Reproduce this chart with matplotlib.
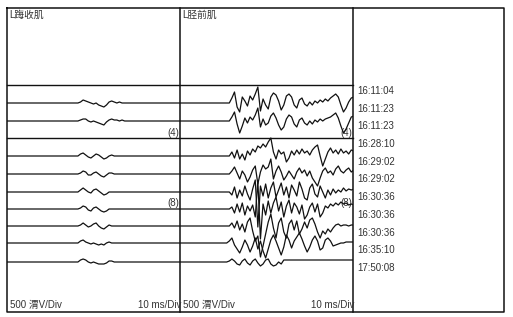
import numpy as np
import matplotlib
matplotlib.use("Agg")
import matplotlib.pyplot as plt

plt.rcParams["font.family"] = ["Liberation Sans", "Noto Sans CJK SC", "DejaVu Sans"]

# --- Input data ---------------------------------------------------------

muscles = ["L踇收肌", "L胫前肌"]
times = ["16:11:04", "16:11:23", "16:11:23", "16:28:10", "16:29:02", "16:29:02",
         "16:30:36", "16:30:36", "16:30:36", "16:35:10", "17:50:08"]
group_counts = ["(4)", "(8)"]
gain_label = "500 渭V/Div"
sweep_label = "10 ms/Div"

# Sample times (ms) of the hand-read waveform segments.
t_left = np.arange(41, 70, 1.5)      # 20 samples, L踇收肌
t_right = np.arange(27, 101, 1.5)    # 50 samples, L胫前肌

# L踇收肌 traces: small deflections only (offsets, up = positive).
left_traces = [
    [0, 1, 3, 2, 1, 0, -1, 0, -2, -3, -4, -2, 1, 2, 1, 0, 1, 0, 0, 0],
    [0, 1, 2, 2, 0, -1, 0, -1, -2, -3, -4, -1, 1, 2, 1, 1, 0, 1, 0, 0],
    [0, 2, 3, 1, -1, -2, 0, 2, 1, -1, -3, -2, 0, 1, 0, 0, 0, 0, 0, 0],
    [0, 1, 3, 2, -1, -1, 1, 2, 0, -2, -3, -1, 1, 1, 0, 0, 0, 0, 0, 0],
    [0, 2, 4, 2, 0, -1, 2, 3, 1, -1, -3, -2, 0, 0, 0, 0, 0, 0, 0, 0],
    [0, 1, 3, 2, -1, -2, 1, 2, 0, -2, -3, -2, 0, 0, 0, 0, 0, 0, 0, 0],
    [0, 1, 3, 1, -1, 0, 2, 3, 0, -2, -3, -1, 1, 0, 0, 0, 0, 0, 0, 0],
    [0, 2, 3, 1, 0, -1, 0, -1, -2, -1, -2, 0, 1, 0, 0, 0, 0, 0, 0, 0],
    [0, 2, 3, 2, 0, -1, 0, -1, -2, -2, -2, -1, 1, 1, 0, 0, 0, 0, 0, 0],
]

# L胫前肌 traces: large responses.
right_traces = [
    [0, 0, 5, 11, -4, -9, 6, 2, -3, 7, 3, 9, 16, -8, 4, -2, -6, 6, 10, 8,
     2, -7, -2, 7, 9, 6, -2, -5, 3, 5, -1, -3, 1, -2, 2, 0, 3, 1, 4, 2,
     5, 7, 9, 6, -2, -9, -5, 1, 5, 6],
    [0, 0, 4, 9, -3, -12, -5, 3, -2, 4, 1, 6, 13, -6, 2, -4, -2, 5, 8, 3,
     -4, -9, -6, 2, 6, 4, -3, -6, 1, 3, -2, -4, 0, -3, 1, -1, 2, 0, 2, 3,
     4, 6, 8, 3, -5, -12, -8, -2, 4, 5],
    [0, 0, 4, -2, 6, -3, 2, -4, 5, 1, 7, 4, 10, 8, 12, 9, 14, 18, 4, -3,
     6, 2, 4, -6, -2, 5, 1, 6, 2, 7, 3, 5, 1, 6, 9, 11, 0, -10, -3, 4,
     8, 3, 6, 2, 7, 3, 5, 2, 6, 5],
    [0, 0, 3, 7, 1, -5, 3, -1, -8, -3, 4, 8, -10, 2, 9, 5, 7, 15, -5, 3,
     8, 2, -6, -2, 3, -1, -5, 2, 6, 1, 4, -2, 3, -4, -8, -12, -4, 3, 6, 1,
     3, -1, 5, 8, 3, 1, 4, 6, 2, 4],
    [0, 0, -3, 5, -6, 2, -4, 6, -2, -8, 3, 12, -35, 6, -4, 8, -6, 4, 10, -5,
     2, 9, -3, 5, -6, 7, 2, -4, 10, 3, -6, -8, 4, 8, -2, -5, 6, 0, -6, 2,
     -3, 3, -1, 2, 0, 4, 1, 3, 2, 3],
    [0, 0, 2, -4, 5, -3, 6, -6, 3, -2, 4, -8, 28, -30, 5, -6, 8, -4, 6, 12,
     -2, 7, -8, 3, 9, -4, 6, 2, -5, 4, -10, -6, 2, 6, -3, 5, -8, -4, 3, 1,
     5, 3, 6, 4, 7, 5, 6, 4, 5, 4],
    [0, 0, 3, -2, 5, -4, 2, -6, 4, 8, -5, -15, -10, -31, -20, -8, 4, 12, -2, -12,
     3, 8, -6, -12, 2, 6, -4, 5, -8, -3, 4, -2, 6, 8, 2, -6, -12, -5, -8, -3,
     -6, -2, 1, 2, 0, 1, 1, 0, 1, 1],
    [0, 2, 5, -2, -6, -10, -4, 3, -2, -9, -3, 5, -6, 2, -8, -15, -6, 3, 8, 2,
     -5, -12, -4, 8, 3, -5, 2, 6, 10, 4, -3, -9, -4, 3, 7, 2, -7, -5, 3, 5,
     2, -3, -2, -1, 0, 0, 1, 1, 1, 1],
    [0, 1, 3, 1, -2, -3, 1, 3, -1, -3, 1, 3, -1, -4, -2, 2, 3, -2, -4, -3,
     0, -2, 2, 2, 2, 2, 2, 2, 2, 2, 2, 2, 2, 2, 2, 2, 2, 2, 2, 2,
     2, 2, 2, 2, 2, 2, 2, 2, 2, 2],
]

# --- Layout (pixel rows of a 513 x 317 canvas) --------------------------

W, H = 513, 317
frame_l, frame_r, frame_t, frame_b = 7, 504, 8, 312
panel_x = [7, 180, 353]
sep_rows = [85, 138]
trace_rows = [103, 121, 156, 174, 192, 209, 226, 243, 262]
time_rows = [91 + 17.7 * i for i in range(len(times))]
count_rows = [133, 203]
ink = "#111111"
text_c = "#333333"
fs = 7

fig = plt.figure(figsize=(W / 100, H / 100), dpi=100)
base = fig.add_axes([0, 0, 1, 1])
base.set_xlim(0, W)
base.set_ylim(H, 0)
base.axis("off")

# outer frame and panel dividers
base.plot([frame_l, frame_r, frame_r, frame_l, frame_l],
          [frame_t, frame_t, frame_b, frame_b, frame_t], color=ink, lw=1.1)
for x in panel_x[1:]:
    base.plot([x, x], [frame_t, frame_b], color=ink, lw=1.1)
for y in sep_rows:
    base.plot([panel_x[0], panel_x[2]], [y, y], color=ink, lw=1.0)


def panel_axes(x0, x1):
    a = fig.add_axes([x0 / W, 0, (x1 - x0) / W, 1])
    a.set_xlim(0, 100)
    a.set_ylim(H, 0)
    a.axis("off")
    return a


left_ax = panel_axes(panel_x[0], panel_x[1])
right_ax = panel_axes(panel_x[1], panel_x[2])

for row, vals in zip(trace_rows, left_traces):
    t = np.concatenate(([0], t_left, [100]))
    v = np.concatenate(([0], vals, [0]))
    left_ax.plot(t, row - v, color=ink, lw=0.9)

for row, vals in zip(trace_rows, right_traces):
    t = np.concatenate(([0], t_right))
    v = np.concatenate(([0], vals))
    right_ax.plot(t, row - v, color=ink, lw=0.9)

# titles, group counts and scale labels
for i, name in enumerate(muscles):
    x0, x1 = panel_x[i], panel_x[i + 1]
    base.text(x0 + 2, 15, name, fontsize=fs, color=text_c, va="center")
    for label, y in zip(group_counts, count_rows):
        base.text(x1 - 1, y, label, fontsize=fs, color=text_c,
                  ha="right", va="center")
    base.text(x0 + 3, 305, gain_label, fontsize=fs, color=text_c, va="center")
    base.text(x1 + 1, 305, sweep_label, fontsize=fs, color=text_c,
              ha="right", va="center")

for label, y in zip(times, time_rows):
    base.text(panel_x[2] + 4, y, label, fontsize=fs, color=text_c, va="center")

fig.savefig("out.png", dpi=100)
